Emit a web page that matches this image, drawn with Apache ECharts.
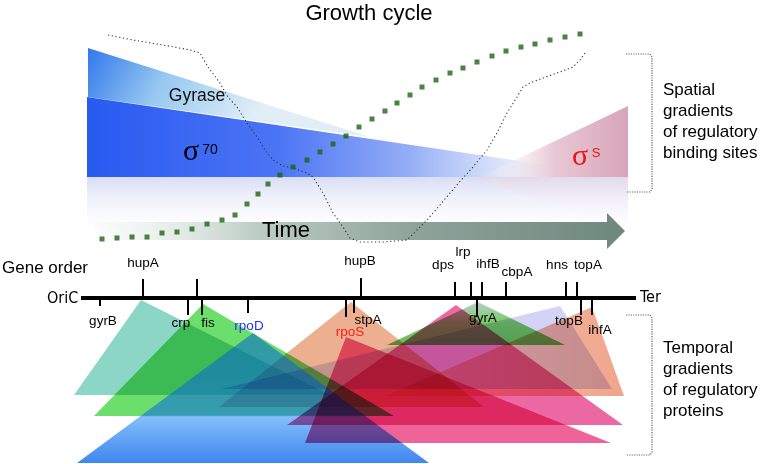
<!DOCTYPE html>
<html><head><meta charset="utf-8">
<script src="https://cdn.jsdelivr.net/npm/echarts@6/dist/echarts.min.js"></script>
<style>html,body{margin:0;padding:0;background:#fff}#main{width:767px;height:464px}</style>
</head><body><div id="main"></div>
<script>
// ================= DATA =================
// genes along the chromosome (OriC -> Ter)
const geneNames = ['gyrB','hupA','','crp','fis','rpoD','rpoS','stpA','hupB','dps','lrp','ihfB','gyrA','cbpA','hns','topA','topB','ihfA'];
const genePos   = [100,143,197,188,202,248,346,354,361,455,471,482,477,506,566,577,581,592];
const geneSide  = [-1,1,1,-1,-1,-1,-1,-1,1,1,1,1,-1,1,1,1,-1,-1];   // +1 above, -1 below
const geneTick  = [8,19,19,17,17,15,19,15,20,16,16,16,19,16,16,16,17,17];
const genomeStart = 81, genomeEnd = 636, genomeLevel = 298;

// temporal gradients of regulatory proteins (triangles)
const triNames  = ['hupA','fis','stpA','ihfA','rpoD','hns','gyrA','dps','rpoS'];
const triApexX  = [141,203,351,592,253,560,478,456,346];
const triApexY  = [300,304,302,307,333,306,302,305,337];
const triBaseL  = [74,94,219,385,77,221,387,287,305];
const triBaseR  = [330,394,484,624,429,612,565,623,611];
const triBaseY  = [395,416,407,396,463,389,345,425,443];

// growth curve (green squares) and supercoiling curve (black dotted)
const growthX = [102,117,132,147,162,177,192,207,222,235,247,258,268,280,293,307,320,333,346,359,372,385,397,410,422,436,450,463,477,492,506,521,535,550,565,580];
const growthY = [239,238,237,237,233,232,229,224,220,215,204,194,184,175,167,160,152,144,136,127,119,111,103,95,87,80,73,68,62,56,51,47,44,40,37,34];
const coilX = [108,133,163,190,200,208,220,228,237,247,257,265,273,283,293,307,313,323,333,343,350,360,383,407,417,427,440,450,463,473,487,497,507,517,523,530,543,557,573,580,585];
const coilY = [35,40,45,50,53,67,83,97,107,123,137,150,160,166,168,173,177,193,213,227,238,242,242,240,230,220,205,193,178,167,150,133,113,97,87,83,78,73,67,60,53];

// spatial gradients (top panel shapes)
const gyrasePts = [[88,48],[370,137],[88,97]];
const sigma70Pts = [[87,97],[628,177],[87,177]];
const sigmaSPts = [[480,177],[628,106],[628,177]];
const reflectPts = [[87,177],[628,177],[628,238],[87,238]];
const reflectSPts = [[470,177],[628,177],[628,230]];
const timeArrowPts = [[95,222],[607,222],[607,213],[625,231],[607,249],[607,240],[95,240]];

// brackets
const bracketTop = [[626,54],[650,54],[652,57],[652,189],[650,192],[626,192]];
const bracketBottom = [[626,315],[650,315],[652,318],[652,452],[650,455],[626,455]];

// ================= LAYOUT / STYLE =================
const labelX = [103,143,0,181,208,249,350,368,360,443,463,488,483,517,557,588,569,600];
const labelY = [321,263,0,323,323,326,332,320,261,265,252,264,318,272,265,265,321,330];
const labelColor = n => n==='rpoD' ? '#1e32ff' : (n==='rpoS' ? '#ff1a1a' : '#000');

const LG = echarts.graphic.LinearGradient;
const triFill = [
  'rgb(140,214,198)',
  'rgb(108,222,108)',
  'rgb(236,176,145)',
  new LG(0,0,1,0,[{offset:0,color:'rgb(246,205,190)'},{offset:0.6,color:'rgb(242,180,158)'},{offset:1,color:'rgb(240,165,140)'}]),
  new LG(0,0,0,1,[{offset:0,color:'rgba(0,100,205,0.55)'},{offset:0.63,color:'rgba(20,115,215,0.62)'},{offset:0.645,color:'rgb(132,192,250)'},{offset:0.8,color:'rgb(100,165,245)'},{offset:1,color:'rgb(65,135,238)'}]),
  'rgb(212,210,245)',
  new LG(0,0,0,1,[{offset:0,color:'rgb(185,208,198)'},{offset:0.5,color:'rgb(115,202,100)'},{offset:1,color:'rgb(100,192,85)'}]),
  'rgb(236,104,162)',
  'rgb(238,100,152)'
];
const triBlend = ['multiply','multiply','multiply','multiply','source-over','multiply','multiply','multiply','multiply'];

const topShapes = [gyrasePts, sigma70Pts, sigmaSPts, reflectPts, reflectSPts, timeArrowPts];
const topFill = [
  new LG(0,0,0.55,1,[{offset:0,color:'rgb(50,120,235)'},{offset:0.45,color:'rgb(150,200,240)'},{offset:1,color:'rgb(225,238,246)'}]),
  new LG(0,0,1,0,[{offset:0,color:'rgb(40,90,240)'},{offset:0.35,color:'rgb(75,115,245)'},{offset:0.6,color:'rgb(150,175,246)'},{offset:0.78,color:'rgba(215,225,250,0.8)'},{offset:1,color:'rgba(255,255,255,0)'}]),
  new LG(0,0,1,0,[{offset:0,color:'rgba(255,255,255,0)'},{offset:0.5,color:'rgb(232,200,212)'},{offset:1,color:'rgb(215,165,185)'}]),
  new LG(0,0,0,1,[{offset:0,color:'rgba(210,215,242,0.85)'},{offset:1,color:'rgba(255,255,255,0)'}]),
  new LG(0,0,0,1,[{offset:0,color:'rgba(235,215,228,0.5)'},{offset:1,color:'rgba(255,255,255,0)'}]),
  new LG(0,0,1,0,[{offset:0,color:'rgba(235,240,238,0.2)'},{offset:0.3,color:'rgb(190,206,198)'},{offset:0.6,color:'rgb(143,163,155)'},{offset:1,color:'rgb(110,136,126)'}])
];

// ================= CHART =================
const chart = echarts.init(document.getElementById('main'), null, {renderer:'canvas'});
const font = 'Liberation Sans, Arial, sans-serif';

const texts = [
    {type:'text', x:369, y:14, z:100, style:{text:'Growth cycle', font:'22px '+font, fill:'#000', align:'center', verticalAlign:'middle'}},
    {type:'text', x:197, y:96, z:100, style:{text:'Gyrase', font:'17.5px '+font, fill:'#111', align:'center', verticalAlign:'middle'}},
    {type:'text', x:191, y:152, z:100, style:{text:'σ', font:'30px Liberation Serif, serif', fill:'#000', align:'center', verticalAlign:'middle'}},
    {type:'text', x:210, y:150, z:100, style:{text:'70', font:'14px '+font, fill:'#000', align:'center', verticalAlign:'middle'}},
    {type:'text', x:580, y:157, z:100, style:{text:'σ', font:'30px Liberation Serif, serif', fill:'#ee1111', align:'center', verticalAlign:'middle'}},
    {type:'text', x:596, y:153, z:100, style:{text:'S', font:'13px '+font, fill:'#ee1111', align:'center', verticalAlign:'middle'}},
    {type:'text', x:286, y:231, z:100, style:{text:'Time', font:'22px '+font, fill:'#000', align:'center', verticalAlign:'middle'}},
    {type:'text', x:2, y:268, z:100, style:{text:'Gene order', font:'17px '+font, fill:'#000', align:'left', verticalAlign:'middle'}},
    {type:'text', x:47, y:299, z:100, style:{text:'OriC', font:'16px DejaVu Sans Condensed, sans-serif', fill:'#000', align:'left', verticalAlign:'middle'}},
    {type:'text', x:640, y:298, z:100, style:{text:'Ter', font:'16px DejaVu Sans Condensed, sans-serif', fill:'#000', align:'left', verticalAlign:'middle'}},
    {type:'text', x:663, y:80, z:100, style:{text:'Spatial\ngradients\nof regulatory\nbinding sites', font:'17px '+font, lineHeight:21, fill:'#000', align:'left', verticalAlign:'top'}},
    {type:'text', x:663, y:338, z:100, style:{text:'Temporal\ngradients\nof regulatory\nproteins', font:'17px '+font, lineHeight:21, fill:'#000', align:'left', verticalAlign:'top'}}
];

const option = {
  animation: false,
  backgroundColor: '#fff',
  grid: {left:0, right:0, top:0, bottom:0},
  xAxis: {type:'value', min:0, max:767, show:false},
  yAxis: {type:'value', min:0, max:464, inverse:true, show:false},
  series: [
    { // top panel shapes
      type:'custom', z:1,
      data: topShapes.map((s,i)=>[s[0][0], s[0][1], i]),
      renderItem: (params, api) => {
        const i = params.dataIndex;
        return {type:'polygon', shape:{points: topShapes[i].map(p=>api.coord(p))}, style:{fill: topFill[i]}};
      }
    },
    { // supercoiling dotted curve
      type:'line', z:3, symbol:'none', silent:true,
      data: coilX.map((x,i)=>[x, coilY[i]]),
      lineStyle:{color:'#333', width:1.1, type:[1.2,2.6]}
    },
    { // growth curve squares
      type:'scatter', z:4, symbol:'rect', symbolSize:5, silent:true,
      data: growthX.map((x,i)=>[x, growthY[i]]),
      itemStyle:{color:'#1d6512'}
    },
    { // genome line
      type:'line', z:7, symbol:'none', silent:true,
      data: [[genomeStart, genomeLevel],[genomeEnd, genomeLevel]],
      lineStyle:{color:'#000', width:4}
    },
    { // gene ticks and labels
      type:'custom', z:8,
      data: geneNames.map((n,i)=>[genePos[i], genomeLevel, i]),
      renderItem: (params, api) => {
        const i = params.dataIndex;
        const p0 = api.coord([genePos[i], genomeLevel]);
        const p1 = api.coord([genePos[i], genomeLevel - geneSide[i]*geneTick[i]]);
        const children = [{type:'line', shape:{x1:p0[0], y1:p0[1], x2:p1[0], y2:p1[1]}, style:{stroke:'#000', lineWidth:2}}];
        if (geneNames[i]) {
          const pl = api.coord([labelX[i], labelY[i]]);
          children.push({type:'text', x:pl[0], y:pl[1], style:{text:geneNames[i], font:'13.5px '+font, fill:labelColor(geneNames[i]), align:'center', verticalAlign:'middle'}});
        }
        return {type:'group', children};
      }
    },
    { type:'line', z:9, symbol:'none', silent:true, data: bracketTop, lineStyle:{color:'#666', width:1.2, type:[1.2,1.2]} },
    { type:'line', z:9, symbol:'none', silent:true, data: bracketBottom, lineStyle:{color:'#666', width:1.2, type:[1.2,1.2]} }
  ],
  graphic: texts
};
chart.setOption(option);

// protein triangles: vertices mapped through the chart's scales, overlapping with multiply blending
const triGraphics = triNames.map((n,i) => {
  const pts = [[triApexX[i], triApexY[i]], [triBaseR[i], triBaseY[i]], [triBaseL[i], triBaseY[i]]]
    .map(p => chart.convertToPixel({gridIndex:0}, p));
  return {type:'polygon', id:'tri_'+n, z:5, silent:true, shape:{points:pts}, style:{fill: triFill[i], blend: triBlend[i]}};
});
chart.setOption({graphic: texts.concat(triGraphics)});
</script></body></html>
